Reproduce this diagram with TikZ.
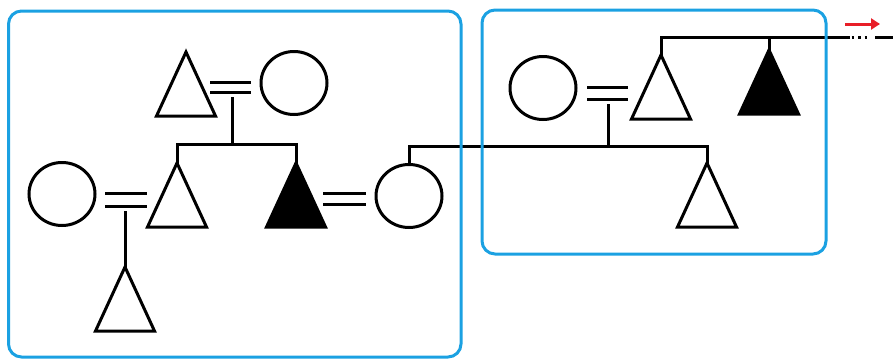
\documentclass[tikz,border=0pt]{standalone}
\usetikzlibrary{shapes.geometric,arrows.meta}
\definecolor{boxblue}{RGB}{27,161,226}
\definecolor{arrred}{RGB}{232,30,40}
\tikzset{
  x=1pt, y=-1pt,
  kin/.style={line width=3pt, black},
  female/.style={draw, ellipse, line width=3pt, minimum width=66pt, minimum height=63pt, inner sep=0pt},
  tri/.pic={\draw[kin, #1] (0,0) -- (-29.5,64) -- (29.5,64) -- cycle;},
  tri/.default={fill=none},
  famgroup/.style={draw=boxblue, line width=3pt, rounded corners=13pt},
}
\begin{document}
\begin{tikzpicture}
\useasboundingbox (0,0) rectangle (893,359);

% ---------- left group ----------
% top couple
\coordinate (gf) at (186,52);
\pic at (gf) {tri};
\node[female] (gm) at (294,83) {};
\coordinate (eqA1) at (210,82); \coordinate (eqA2) at (251,82);
\coordinate (eqA3) at (210,92); \coordinate (eqA4) at (251,92);
\draw[kin] (eqA1) -- (eqA2) (eqA3) -- (eqA4);
\coordinate (dropA) at (232,97);
\coordinate (sibA) at (232,144);
\coordinate (sibAl) at (177,144);
\coordinate (sibAr) at (296,144);

% second generation
\coordinate (son) at (177,163);
\coordinate (aff) at (296,163);
\pic at (son) {tri};
\pic at (aff) {tri={fill=black}};
\node[female] (sonw) at (62,194) {};
\node[female] (affw) at (409,196) {};
\draw[kin] (dropA) -- (sibA);
\draw[kin] (son) |- (sibAl) -- (sibAr) -- (aff);

\coordinate (eqB1) at (105,193); \coordinate (eqB2) at (147,193);
\coordinate (eqB3) at (105,206); \coordinate (eqB4) at (147,206);
\draw[kin] (eqB1) -- (eqB2) (eqB3) -- (eqB4);
\coordinate (dropB) at (125,211);
\coordinate (gson) at (125,267);
\pic at (gson) {tri};
\draw[kin] (dropB) -- (gson);

\coordinate (eqC1) at (323,193); \coordinate (eqC2) at (366,193);
\coordinate (eqC3) at (323,204); \coordinate (eqC4) at (366,204);
\draw[kin] (eqC1) -- (eqC2) (eqC3) -- (eqC4);

% ---------- right group ----------
\node[female] (rw) at (543,88) {};
\coordinate (rh) at (661,55);
\pic at (rh) {tri};
\coordinate (rs) at (769,50);
\pic at (rs) {tri={fill=black}};
\coordinate (eqD1) at (587,87); \coordinate (eqD2) at (628,87);
\coordinate (eqD3) at (587,99); \coordinate (eqD4) at (628,99);
\draw[kin] (eqD1) -- (eqD2) (eqD3) -- (eqD4);
\coordinate (dropD) at (608,104);
\coordinate (sibD) at (608,146);
\coordinate (rc) at (707,163);
\pic at (rc) {tri};
\draw[kin] (dropD) -- (sibD);
\draw[kin] (affw.north) |- (rc |- sibD) -- (rc);

% top sibship line of right group, continuing off-picture
\coordinate (sibE) at (769,37);
\coordinate (contA) at (849.5,37);
\coordinate (dotS) at (851.5,37);
\coordinate (dotE) at (868,37);
\coordinate (contB) at (875,37);
\coordinate (edgeR) at (893,37);
\draw[kin] (rh) -- (rh |- sibE) -- (contA);
\draw[kin] (rs) -- (sibE);
\draw[line width=3pt, dash pattern=on 2.5pt off 4pt] (dotS) -- (dotE);
\draw[kin] (contB) -- (edgeR);

% red arrow
\coordinate (arrS) at (845,24);
\coordinate (arrE) at (880,24);
\draw[arrred, line width=3pt, -{Triangle[length=9pt,width=11pt]}] (arrS) -- (arrE);

% ---------- group boxes ----------
\coordinate (lboxA) at (8.5,11);
\coordinate (lboxB) at (461,357);
\coordinate (rboxA) at (482,10);
\coordinate (rboxB) at (826,254);
\draw[famgroup] (lboxA) rectangle (lboxB);
\draw[famgroup] (rboxA) rectangle (rboxB);
\end{tikzpicture}
\end{document}
